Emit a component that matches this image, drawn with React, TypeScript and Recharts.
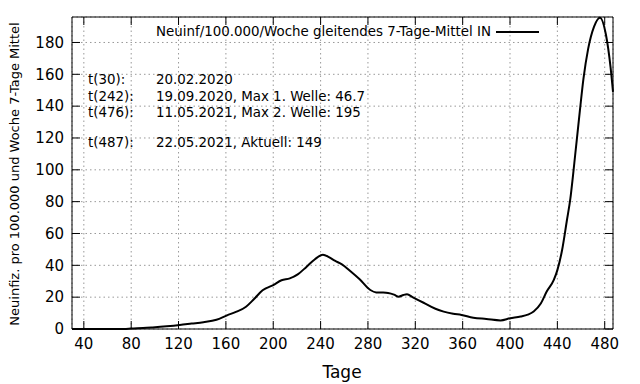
import { LineChart, Line, XAxis, YAxis, CartesianGrid, Legend } from 'recharts';

// Tage seit Beginn (t) und Neuinfektionen / 100.000 / Woche, gleitendes 7-Tage-Mittel
const days = [
  30, 50, 74, 80, 90, 98, 110, 121, 131, 141, 152, 161, 169, 177, 184, 191, 200, 207, 214, 221,
  228, 235, 242, 247, 252, 258, 265, 273, 282, 287, 292, 297, 302, 306, 310, 313, 318, 327, 337,
  344, 352, 359, 369, 380, 392, 400, 409, 415, 420, 426, 431, 437, 440, 444, 448, 451, 453, 455,
  459, 462, 466, 471, 476, 481, 485, 487,
];
const incidence = [
  0, 0, 0, 0.3, 0.6, 1.0, 1.7, 2.5, 3.4, 4.3, 5.8, 8.6, 10.9, 14, 19, 24.3, 27.6, 30.6, 31.8, 34.5,
  39, 43.7, 46.7, 45.2, 42.9, 40.6, 36.4, 31.2, 24.5, 23, 22.9, 22.6, 21.6, 20.3, 21.4, 21.8, 19.9,
  16.5, 12.7, 10.9, 9.6, 8.8, 7.1, 6.3, 5.4, 6.7, 7.8, 9, 11, 16, 23.5, 30.8, 37, 49.6, 68, 82, 95,
  109, 137, 157, 176, 190, 195.6, 185, 164, 149,
];
const xTicks = [40, 80, 120, 160, 200, 240, 280, 320, 360, 400, 440, 480];
const yTicks = [0, 20, 40, 60, 80, 100, 120, 140, 160, 180];

const seriesName = 'Neuinf/100.000/Woche gleitendes 7-Tage-Mittel IN';
const noteTags = ['t(30):', 't(242):', 't(476):', 't(487):'];
const noteTexts = [
  '20.02.2020',
  '19.09.2020, Max 1. Welle: 46.7',
  '11.05.2021, Max 2. Welle: 195',
  '22.05.2021, Aktuell: 149',
];
const noteRows = [80, 97, 113, 143];

const FONT = '"DejaVu Sans", sans-serif';
const TICK_LEN = 8;

const chartData = days.map((t, i) => ({ t, v: incidence[i] }));

// gnuplot style: tick marks point into the plot
const BottomTick = (props: any) => {
  const { x, y, payload } = props;
  const axisY = y - 9;
  return (
    <g>
      <line x1={x} x2={x} y1={axisY} y2={axisY - TICK_LEN} stroke="#000" />
      <text x={x} y={y} dy="0.71em" textAnchor="middle" fontSize={15} fontFamily={FONT} fill="#000">
        {payload.value}
      </text>
    </g>
  );
};

const LeftTick = (props: any) => {
  const { x, y, payload } = props;
  const axisX = x + 8;
  return (
    <g>
      <line x1={axisX} x2={axisX + TICK_LEN} y1={y} y2={y} stroke="#000" />
      <text x={x} y={y} dy="0.355em" textAnchor="end" fontSize={15} fontFamily={FONT} fill="#000">
        {payload.value}
      </text>
    </g>
  );
};

const TopTick = (props: any) => {
  const { x, y } = props;
  const axisY = y + 8;
  return <line x1={x} x2={x} y1={axisY} y2={axisY + TICK_LEN} stroke="#000" />;
};

const RightTick = (props: any) => {
  const { x, y } = props;
  const axisX = x - 8;
  return <line x1={axisX - TICK_LEN} x2={axisX} y1={y} y2={y} stroke="#000" />;
};

const LegendContent = () => (
  <div style={{ display: 'flex', alignItems: 'center', fontFamily: FONT, fontSize: 13.4, color: '#000' }}>
    <span>{seriesName}</span>
    <svg width={48} height={10} style={{ marginLeft: 5 }}>
      <line x1={0} x2={43} y1={5} y2={5} stroke="#000" strokeWidth={2} />
    </svg>
  </div>
);

export default function App() {
  return (
    <div style={{ position: 'relative', width: 640, height: 384, background: '#fff' }}>
      <style>{'body{margin:0}'}</style>
      <LineChart
        width={640}
        height={384}
        data={chartData}
        margin={{ top: 16, right: 26, bottom: 25, left: 0 }}
      >
        <CartesianGrid
          xAxisId="bottom"
          yAxisId="left"
          stroke="#999"
          strokeDasharray="1.5 3"
        />
        <XAxis
          xAxisId="bottom"
          dataKey="t"
          type="number"
          domain={[30, 487]}
          ticks={xTicks}
          interval={0}
          height={30}
          tickSize={6}
          tickMargin={3}
          tickLine={false}
          axisLine={{ stroke: '#000' }}
          tick={BottomTick}
        />
        {/* mirror axes give the top and right border; size 1 so they still render */}
        <XAxis
          xAxisId="top"
          orientation="top"
          dataKey="t"
          type="number"
          domain={[30, 487]}
          ticks={xTicks}
          interval={0}
          height={1}
          tickSize={6}
          tickMargin={2}
          tickLine={false}
          axisLine={{ stroke: '#000' }}
          tick={TopTick}
        />
        <YAxis
          yAxisId="left"
          type="number"
          domain={[0, 196]}
          ticks={yTicks}
          interval={0}
          width={72}
          tickSize={6}
          tickMargin={2}
          tickLine={false}
          axisLine={{ stroke: '#000' }}
          tick={LeftTick}
        />
        <YAxis
          yAxisId="right"
          orientation="right"
          type="number"
          domain={[0, 196]}
          ticks={yTicks}
          interval={0}
          width={1}
          tickSize={6}
          tickMargin={2}
          tickLine={false}
          axisLine={{ stroke: '#000' }}
          tick={RightTick}
        />
        <Legend
          verticalAlign="middle"
          layout="horizontal"
          wrapperStyle={{ top: 24, right: 96, left: 'auto', width: 'auto' }}
          content={LegendContent}
        />
        <Line
          xAxisId="bottom"
          yAxisId="left"
          dataKey="v"
          name={seriesName}
          type="monotone"
          stroke="#000"
          strokeWidth={2}
          dot={false}
          activeDot={false}
          isAnimationActive={false}
        />
        <Line
          xAxisId="top"
          yAxisId="right"
          dataKey="v"
          legendType="none"
          stroke="none"
          dot={false}
          activeDot={false}
          isAnimationActive={false}
        />
      </LineChart>

      {noteTags.map((tag, i) => (
        <div
          key={tag}
          style={{
            position: 'absolute',
            top: noteRows[i] - 8,
            left: 88,
            lineHeight: '16px',
            fontFamily: FONT,
            fontSize: 13.4,
            whiteSpace: 'nowrap',
          }}
        >
          <span style={{ display: 'inline-block', width: 68 }}>{tag}</span>
          <span>{noteTexts[i]}</span>
        </div>
      ))}

      <div
        style={{
          position: 'absolute',
          left: 15,
          top: 174,
          transform: 'translate(-50%, -50%) rotate(-90deg)',
          fontFamily: FONT,
          fontSize: 13,
          whiteSpace: 'nowrap',
          lineHeight: '16px',
        }}
      >
        Neuinfiz. pro 100.000 und Woche 7-Tage Mittel
      </div>
      <div
        style={{
          position: 'absolute',
          left: 342,
          top: 372,
          transform: 'translate(-50%, -50%)',
          fontFamily: FONT,
          fontSize: 17,
          whiteSpace: 'nowrap',
          lineHeight: '20px',
        }}
      >
        Tage
      </div>
    </div>
  );
}
